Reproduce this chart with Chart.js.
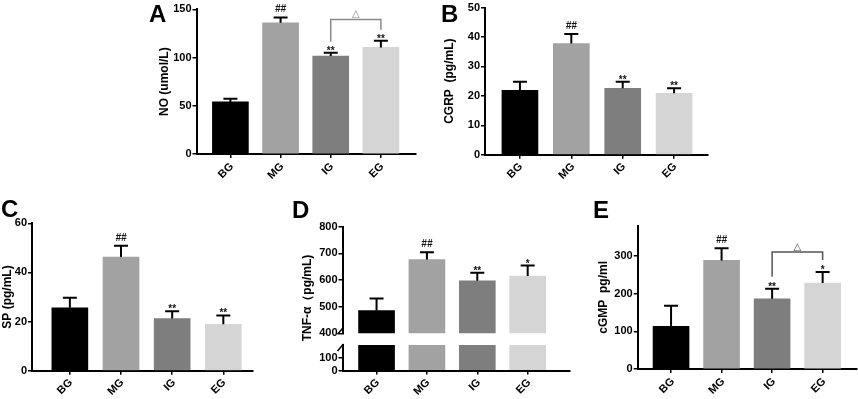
<!DOCTYPE html>
<html>
<head>
<meta charset="utf-8">
<script src="https://cdn.jsdelivr.net/npm/chart.js@4.4.0/dist/chart.umd.min.js"></script>
<style>
  html, body { margin: 0; padding: 0; background: #fff; }
  #wrap { position: relative; width: 858px; height: 399px; overflow: hidden; }
  canvas { position: absolute; left: 0; top: 0; }
  .grp {
    position: absolute;
    font: bold 11px "Liberation Sans", Arial, sans-serif;
    line-height: 13px;
    height: 13px;
    white-space: nowrap;
    color: #000;
    transform-origin: 100% 50%;
    transform: rotate(-45deg);
    z-index: 5;
  }
</style>
</head>
<body>
<div id="wrap">
  <canvas id="cA" width="858" height="399"></canvas>
  <canvas id="cB" width="858" height="399"></canvas>
  <canvas id="cC" width="858" height="399"></canvas>
  <canvas id="cDtop" width="858" height="399"></canvas>
  <canvas id="cDlow" width="858" height="399"></canvas>
  <canvas id="cE" width="858" height="399"></canvas>
</div>
<script>
// groups and bar colours
const groups = ['BG', 'MG', 'IG', 'EG'];

// A: NO
const noMean = [54, 136, 101.5, 110.5];
const noSd = [3.4, 5.5, 3.5, 7];
const noMarks = ['', '##', '**', '**'];
// B: CGRP
const cgrpMean = [21.9, 37.8, 22.6, 20.9];
const cgrpSd = [2.9, 3.2, 2.2, 1.7];
const cgrpMarks = ['', '##', '**', '**'];
// C: SP
const spMean = [25.6, 46.3, 21.2, 18.9];
const spSd = [4.1, 4.6, 3.0, 3.6];
const spMarks = ['', '##', '**', '**'];
// D: TNF-a
const tnfMean = [485, 677, 597, 615];
const tnfSd = [46, 27, 30, 39];
const tnfMarks = ['', '##', '**', '*'];
// E: cGMP
const cgmpMean = [113, 288, 186, 228];
const cgmpSd = [55, 32, 27, 29];
const cgmpMarks = ['', '##', '**', '*'];

const barColors = ['#000000', '#a2a2a2', '#7e7e7e', '#d5d5d5'];
const FAMILY = 'Liberation Sans';
const FONT = '"Liberation Sans", Arial, sans-serif';
const W = 858, H = 399, xH = 40;
const wrap = document.getElementById('wrap');

// error bars, significance marks and brackets
const marksPlugin = {
  id: 'marks',
  afterDatasetsDraw(chart, args, o) {
    if (!o.mean) return;
    const { ctx, scales: { x, y } } = chart;
    ctx.save();
    ctx.textAlign = 'center';
    if (o.sd) {
      o.mean.forEach((m, i) => {
        const cx = x.getPixelForValue(i);
        const y0 = y.getPixelForValue(m);
        const y1 = y.getPixelForValue(m + o.sd[i]);
        ctx.strokeStyle = '#000';
        ctx.lineWidth = 2;
        ctx.beginPath();
        ctx.moveTo(cx, y0); ctx.lineTo(cx, y1);
        ctx.moveTo(cx - 7, y1); ctx.lineTo(cx + 7, y1);
        ctx.stroke();
        const t = o.notes ? o.notes[i] : '';
        if (t) {
          ctx.fillStyle = '#111';
          ctx.textBaseline = 'alphabetic';
          if (t[0] === '#') {
            ctx.font = 'italic bold 10px ' + FONT;
            ctx.fillText(t, cx, y1 - 5);
          } else {
            ctx.font = 'bold 10px ' + FONT;
            ctx.fillText(t, cx, y1 + 1);
          }
        }
      });
    }
    const b = o.bracket;
    if (b) {
      const xa = x.getPixelForValue(b.from), xb = x.getPixelForValue(b.to);
      const yt = y.getPixelForValue(b.top);
      const ya = y.getPixelForValue(o.mean[b.from] + o.sd[b.from]) - b.gap;
      const yb = y.getPixelForValue(o.mean[b.to] + o.sd[b.to]) - b.gap;
      ctx.strokeStyle = b.color;
      ctx.lineWidth = 1.5;
      ctx.beginPath();
      ctx.moveTo(xa, ya); ctx.lineTo(xa, yt); ctx.lineTo(xb, yt); ctx.lineTo(xb, yb);
      ctx.stroke();
      ctx.fillStyle = b.color;
      ctx.font = '10px "DejaVu Sans", sans-serif';
      ctx.fillText(b.text, (xa + xb) / 2, yt - 2);
    }
    ctx.restore();
  }
};

// panel letters, free axis titles, axis break marks
const panelText = {
  id: 'panelText',
  afterDraw(chart, args, o) {
    const { ctx, chartArea: a } = chart;
    ctx.save();
    (o.items || []).forEach(t => {
      ctx.save();
      ctx.font = t.font;
      ctx.fillStyle = '#000';
      ctx.textAlign = t.align || 'left';
      ctx.textBaseline = t.baseline || 'alphabetic';
      ctx.translate(t.x, t.y);
      if (t.rotate) ctx.rotate(t.rotate);
      ctx.fillText(t.text, 0, 0);
      ctx.restore();
    });
    if (o.breakAt) {
      ctx.strokeStyle = '#000';
      ctx.lineWidth = 1.5;
      ctx.beginPath();
      if (o.breakAt === 'bottom') { ctx.moveTo(a.left - 5, a.bottom + 1); ctx.lineTo(a.left + 1, a.bottom - 6); }
      else { ctx.moveTo(a.left - 5, a.top + 6); ctx.lineTo(a.left + 1, a.top - 1); }
      ctx.stroke();
    }
    ctx.restore();
  }
};

// slanted group names under the x axis, placed from the chart's own x scale
function addGroupLabels(chart) {
  const x = chart.scales.x;
  const bottom = chart.chartArea.bottom;
  groups.forEach((g, i) => {
    const el = document.createElement('div');
    el.className = 'grp';
    el.textContent = g;
    el.style.right = (W - (x.getPixelForValue(i) + 1)) + 'px';
    el.style.top = (bottom + 10 - 6.5) + 'px';
    wrap.appendChild(el);
  });
}

function makePanel(id, p) {
  const axisGrid = { drawOnChartArea: false, drawTicks: true, tickLength: 4, color: '#000', lineWidth: 1.5, offset: false };
  const axisBorder = { color: '#000', width: 2 };
  const tickFont = { family: FAMILY, size: 11, weight: 'bold' };
  const chart = new Chart(document.getElementById(id), {
    type: 'bar',
    data: {
      datasets: [{
        data: p.mean.map((v, i) => ({ x: i, y: v })),
        backgroundColor: barColors,
        barThickness: 36,
        clip: p.clip
      }]
    },
    options: {
      responsive: false,
      animation: false,
      devicePixelRatio: 1,
      layout: {
        padding: {
          left: p.area.l - p.yW,
          right: W - p.area.r,
          top: p.area.t,
          bottom: H - p.area.b - (p.showX ? xH : 0)
        }
      },
      plugins: {
        legend: { display: false },
        tooltip: { enabled: false },
        marks: p.marks || {},
        panelText: p.text || {}
      },
      scales: {
        x: {
          type: 'linear',
          display: p.showX,
          offset: false,
          min: p.xMin,
          max: p.xMax,
          afterFit: s => { if (p.showX) s.height = xH; },
          afterBuildTicks: s => { s.ticks = groups.map((g, i) => ({ value: i })); },
          ticks: { display: false, autoSkip: false },
          grid: axisGrid,
          border: axisBorder
        },
        y: {
          min: p.yMin,
          max: p.yMax,
          afterFit: s => { s.width = p.yW; },
          afterBuildTicks: s => { s.ticks = s.ticks.filter(t => t.value <= p.yTop && t.value % p.step === 0); },
          ticks: {
            stepSize: p.step,
            padding: 1,
            color: '#000',
            font: tickFont
          },
          title: {
            display: !!p.title,
            text: p.title || '',
            color: '#000',
            font: { family: FAMILY, size: 12, weight: 'bold' },
            padding: { top: 0, bottom: 0 }
          },
          grid: axisGrid,
          border: axisBorder
        }
      }
    },
    plugins: [marksPlugin, panelText]
  });
  if (p.showX) addGroupLabels(chart);
  return chart;
}

const letterFont = 'bold 24px ' + FONT;

makePanel('cA', {
  mean: noMean, area: { l: 196.5, r: 416, t: 9.3, b: 154 }, yW: 38.7,
  yMin: 0, yMax: 150, yTop: 150, step: 50, xMin: -0.676, xMax: 3.70, showX: true,
  title: 'NO (umol/L)',
  marks: { mean: noMean, sd: noSd, notes: noMarks, bracket: { from: 2, to: 3, top: 139.5, gap: 11, text: '△', color: '#8a8a8a' } },
  text: { items: [{ text: 'A', x: 149, y: 22, font: letterFont }] }
});

makePanel('cB', {
  mean: cgrpMean, area: { l: 485, r: 708, t: 6.7, b: 154.7 }, yW: 42.2,
  yMin: 0, yMax: 50, yTop: 50, step: 10, xMin: -0.68, xMax: 3.66, showX: true,
  title: 'CGRP  (pg/mL)',
  marks: { mean: cgrpMean, sd: cgrpSd, notes: cgrpMarks },
  text: { items: [{ text: 'B', x: 441, y: 22, font: letterFont }] }
});

makePanel('cC', {
  mean: spMean, area: { l: 32, r: 253, t: 223.3, b: 370.7 }, yW: 32,
  yMin: 0, yMax: 60, yTop: 60, step: 20, xMin: -0.74, xMax: 3.58, showX: true,
  title: 'SP (pg/mL)',
  marks: { mean: spMean, sd: spSd, notes: spMarks },
  text: { items: [{ text: 'C', x: 1, y: 217, font: letterFont }] }
});

// D: broken axis, upper and lower parts
makePanel('cDtop', {
  mean: tnfMean, area: { l: 342.5, r: 570, t: 226.7, b: 333.3 }, yW: 30, clip: 0,
  yMin: 400, yMax: 800, yTop: 800, step: 100, xMin: -0.676, xMax: 3.84, showX: false,
  marks: { mean: tnfMean, sd: tnfSd, notes: tnfMarks },
  text: {
    breakAt: 'bottom',
    items: [
      { text: 'D', x: 292, y: 218, font: letterFont },
      { text: 'TNF-α（pg/mL)', x: 308, y: 298, font: 'bold 12px ' + FONT, align: 'center', baseline: 'middle', rotate: -Math.PI / 2 }
    ]
  }
});

makePanel('cDlow', {
  mean: tnfMean, area: { l: 342.5, r: 570, t: 345, b: 370.5 }, yW: 30, clip: 0,
  yMin: 0, yMax: 200, yTop: 100, step: 100, xMin: -0.676, xMax: 3.84, showX: true,
  text: { breakAt: 'top' }
});

makePanel('cE', {
  mean: cgmpMean, area: { l: 637.7, r: 857, t: 225.7, b: 369 }, yW: 40.9,
  yMin: 0, yMax: 380, yTop: 300, step: 100, xMin: -0.66, xMax: 3.68, showX: true,
  title: 'cGMP  pg/ml',
  marks: { mean: cgmpMean, sd: cgmpSd, notes: cgmpMarks, bracket: { from: 2, to: 3, top: 310, gap: 12, text: '△', color: '#555' } },
  text: { items: [{ text: 'E', x: 593, y: 218, font: letterFont }] }
});
</script>
</body>
</html>
